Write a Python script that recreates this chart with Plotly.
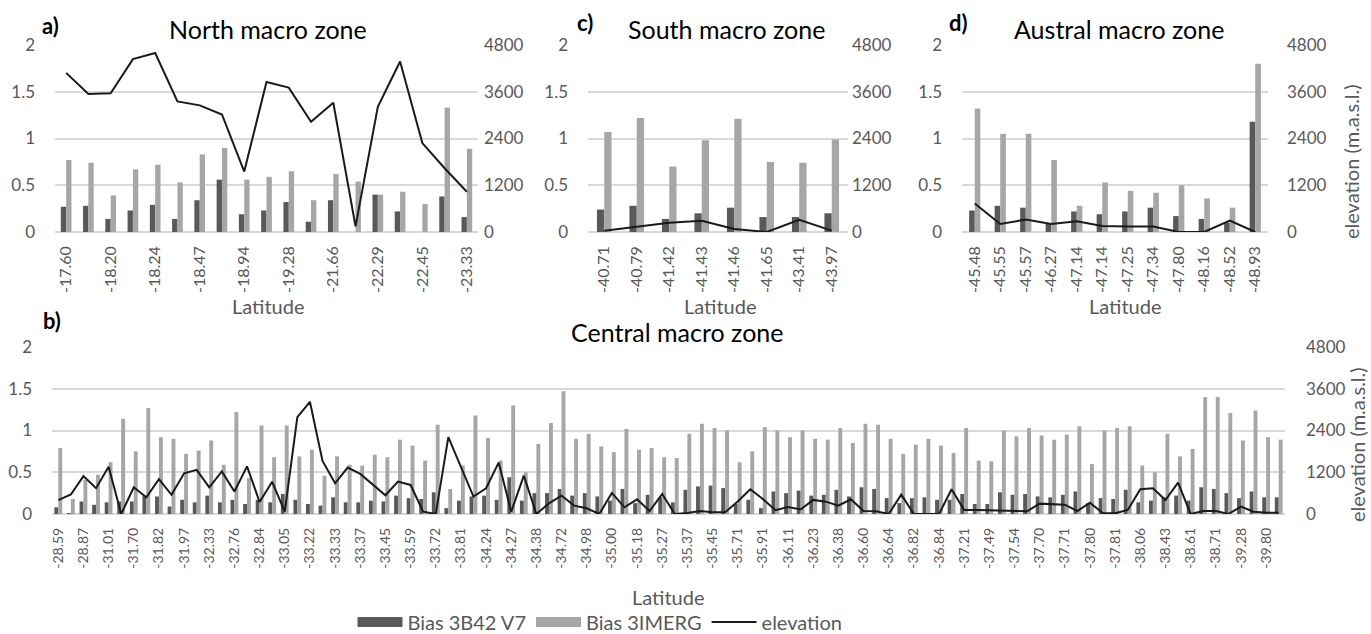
import plotly.graph_objects as go

# ---------------- DATA ----------------
north_labels = ["-17.60", "-18.20", "-18.24", "-18.47", "-18.94", "-19.28", "-21.66", "-22.29", "-22.45", "-23.33"]
north_3b42 = [0.27, 0.28, 0.14, 0.23, 0.29, 0.14, 0.34, 0.56, 0.19, 0.23, 0.32, 0.11, 0.34, 0.0, 0.40, 0.22, 0.0, 0.38, 0.16]
north_imerg = [0.77, 0.74, 0.39, 0.67, 0.72, 0.53, 0.83, 0.90, 0.56, 0.59, 0.65, 0.34, 0.62, 0.54, 0.40, 0.43, 0.30, 1.33, 0.89]
north_elev = [4085, 3542, 3559, 4438, 4594, 3353, 3250, 3016, 1551, 3852, 3706, 2827, 3318, 146, 3214, 4378, 2283, 1637, 1034]

south_labels = ["-40.71", "-40.79", "-41.42", "-41.43", "-41.46", "-41.65", "-43.41", "-43.97"]
south_3b42 = [0.24, 0.28, 0.14, 0.20, 0.26, 0.16, 0.16, 0.20]
south_imerg = [1.07, 1.22, 0.70, 0.98, 1.21, 0.75, 0.74, 0.99]
south_elev = [35, 130, 235, 287, 78, 0, 313, 35]

austral_labels = ["-45.48", "-45.55", "-45.57", "-46.27", "-47.14", "-47.14", "-47.25", "-47.34", "-47.80", "-48.16", "-48.52", "-48.93"]
austral_3b42 = [0.23, 0.28, 0.26, 0.09, 0.22, 0.19, 0.22, 0.26, 0.17, 0.14, 0.10, 1.18]
austral_imerg = [1.32, 1.05, 1.05, 0.77, 0.28, 0.53, 0.44, 0.42, 0.50, 0.36, 0.26, 1.80]
austral_elev = [732, 207, 319, 207, 276, 155, 138, 138, 0, 0, 293, 0]

central_labels = ["-28.59", "-28.87", "-31.01", "-31.70", "-31.82", "-31.97", "-32.33", "-32.76", "-32.84",
                  "-33.05", "-33.22", "-33.33", "-33.37", "-33.45", "-33.59", "-33.72", "-33.81", "-34.24",
                  "-34.27", "-34.38", "-34.72", "-34.98", "-35.00", "-35.18", "-35.27", "-35.37", "-35.45",
                  "-35.71", "-35.91", "-36.11", "-36.23", "-36.38", "-36.60", "-36.64", "-36.82", "-36.84",
                  "-37.21", "-37.49", "-37.54", "-37.70", "-37.71", "-37.80", "-37.81", "-38.06", "-38.43",
                  "-38.61", "-38.71", "-39.28", "-39.80"]
central_3b42 = [0.08, 0.01, 0.15, 0.11, 0.14, 0.15, 0.15, 0.22, 0.21, 0.09,
                0.17, 0.14, 0.22, 0.14, 0.17, 0.12, 0.17, 0.14, 0.24, 0.17,
                0.12, 0.10, 0.20, 0.14, 0.14, 0.16, 0.15, 0.22, 0.19, 0.18,
                0.26, 0.07, 0.16, 0.21, 0.22, 0.17, 0.44, 0.16, 0.25, 0.25,
                0.30, 0.22, 0.25, 0.21, 0.16, 0.30, 0.13, 0.23, 0.20, 0.14,
                0.29, 0.33, 0.34, 0.31, 0.12, 0.17, 0.07, 0.27, 0.25, 0.28,
                0.22, 0.23, 0.29, 0.21, 0.32, 0.30, 0.19, 0.13, 0.19, 0.20,
                0.17, 0.17, 0.24, 0.12, 0.12, 0.26, 0.23, 0.24, 0.21, 0.20,
                0.23, 0.27, 0.13, 0.19, 0.18, 0.29, 0.14, 0.16, 0.20, 0.22,
                0.16, 0.32, 0.30, 0.25, 0.19, 0.27, 0.20, 0.20]
central_imerg = [0.79, 0.18, 0.41, 0.47, 0.62, 1.14, 0.75, 1.27, 0.92, 0.90,
                 0.72, 0.76, 0.88, 0.59, 1.22, 0.43, 1.06, 0.68, 1.06, 0.69,
                 0.77, 0.46, 0.69, 0.59, 0.58, 0.71, 0.68, 0.89, 0.82, 0.64,
                 1.07, 0.30, 0.58, 1.18, 0.91, 0.64, 1.30, 0.50, 0.84, 1.09,
                 1.47, 0.90, 0.96, 0.81, 0.74, 1.02, 0.77, 0.79, 0.68, 0.67,
                 0.96, 1.08, 1.03, 1.00, 0.62, 0.75, 1.04, 1.00, 0.92, 1.00,
                 0.90, 0.89, 1.03, 0.85, 1.08, 1.07, 0.90, 0.72, 0.83, 0.90,
                 0.82, 0.73, 1.03, 0.64, 0.63, 1.00, 0.93, 1.03, 0.94, 0.89,
                 0.95, 1.05, 0.60, 1.00, 1.03, 1.05, 0.58, 0.50, 0.96, 0.69,
                 0.78, 1.40, 1.40, 1.21, 0.88, 1.24, 0.92, 0.89]
central_elev = [400, 560, 1090, 740, 1360, 0, 770, 480, 1000, 550,
                1170, 1270, 768, 1225, 645, 1370, 345, 925, 67, 2784,
                3226, 1526, 883, 1334, 1152, 835, 538, 931, 835, 67,
                0, 2208, 1330, 500, 739, 1478, 67, 1104, 0, 307,
                528, 240, 163, 0, 605, 192, 422, 86, 576, 0,
                30, 86, 48, 48, 360, 710, 430, 110, 200, 130,
                405, 355, 240, 422, 86, 77, 0, 557, 0, 0,
                0, 710, 115, 115, 106, 106, 106, 77, 298, 278,
                269, 86, 326, 30, 19, 115, 710, 739, 403, 902,
                0, 86, 86, 0, 211, 67, 38, 38]

# ---------------- STYLE ----------------
DARK = "#595959"
LIGHT = "#A6A6A6"
LINE = "#1A1A1A"
GRID = "#D9D9D9"
TXT = "#595959"
FONT = "Lato"
W, H = 1371, 634


def px_x(p):
    return p / W


def px_y(p):
    return 1 - p / H


fig = go.Figure()

panels = [
    # name, labels, dark, light, elev, x px, y px, bar width, x-tick font, label step, right standoff
    ("north", north_labels, north_3b42, north_imerg, north_elev, (55, 478), (45, 232), 0.24, 16, 2, 5),
    ("south", south_labels, south_3b42, south_imerg, south_elev, (588, 848), (45, 232), 0.225, 16, 1, 3),
    ("austral", austral_labels, austral_3b42, austral_imerg, austral_elev, (962, 1268), (45, 232), 0.22, 16, 1, 18),
    ("central", central_labels, central_3b42, central_imerg, central_elev, (52, 1285), (347, 514), 0.31, 14, 2, 20),
]

layout_axes = {}
for i, (name, labels, dark, light, elev, xd, yd, bw, xfs, step, rstand) in enumerate(panels):
    n = len(dark)
    xs = list(range(n))
    xa = "x" if i == 0 else f"x{i + 1}"
    ya_l = f"y{2 * i + 1}" if i > 0 else "y"
    ya_r = f"y{2 * i + 2}"
    fig.add_trace(go.Bar(x=xs, y=dark, xaxis=xa, yaxis=ya_l, marker_color=DARK, width=bw, offset=-bw,
                         marker_line_width=0, showlegend=False, name="Bias 3B42 V7"))
    fig.add_trace(go.Bar(x=xs, y=light, xaxis=xa, yaxis=ya_l, marker_color=LIGHT, width=bw, offset=0,
                         marker_line_width=0, showlegend=False, name="Bias 3IMERG"))
    fig.add_trace(go.Scatter(x=xs, y=elev, xaxis=xa, yaxis=ya_r, mode="lines",
                             line=dict(color=LINE, width=2), showlegend=False, name="elevation"))

    xkey = "xaxis" if i == 0 else f"xaxis{i + 1}"
    ylkey = "yaxis" if i == 0 else f"yaxis{2 * i + 1}"
    yrkey = f"yaxis{2 * i + 2}"
    layout_axes[xkey] = dict(
        domain=[px_x(xd[0]), px_x(xd[1])], anchor=ya_l, range=[-0.5, n - 0.5], automargin=False,
        tickmode="array", tickvals=list(range(0, n, step))[:len(labels)], ticktext=labels,
        tickangle=-90, showgrid=False, zeroline=False, showline=False, ticks="",
        tickfont=dict(family=FONT, size=xfs, color=TXT), ticklabelstandoff=10,
    )
    layout_axes[ylkey] = dict(
        domain=[px_y(yd[1]), px_y(yd[0])], anchor=xa, range=[0, 2], dtick=0.5, tick0=0, automargin=False,
        showgrid=True, gridcolor=GRID, gridwidth=1.5, zeroline=True, zerolinecolor=GRID,
        zerolinewidth=1.5, showline=False, ticks="",
        tickfont=dict(family=FONT, size=17, color=TXT), ticklabelstandoff=19,
    )
    layout_axes[yrkey] = dict(
        overlaying=ya_l, side="right", anchor=xa, range=[0, 4800], dtick=1200, tick0=0, automargin=False,
        showgrid=False, zeroline=False, showline=False, ticks="",
        tickfont=dict(family=FONT, size=17, color=TXT), ticklabelstandoff=rstand,
    )

# legend entries (wide swatches)
fig.add_trace(go.Scatter(x=[None], y=[None], mode="lines", line=dict(color=DARK, width=14),
                         name="Bias 3B42 V7", xaxis="x4", yaxis="y7"))
fig.add_trace(go.Scatter(x=[None], y=[None], mode="lines", line=dict(color=LIGHT, width=14),
                         name="Bias 3IMERG", xaxis="x4", yaxis="y7"))
fig.add_trace(go.Scatter(x=[None], y=[None], mode="lines", line=dict(color=LINE, width=2),
                         name="elevation", xaxis="x4", yaxis="y8"))

annotations = []


def ann(text, x, y, size, color="black", bold=False, angle=0, xanchor="center"):
    annotations.append(dict(
        text=f"<b>{text}</b>" if bold else text, x=px_x(x), y=px_y(y), xref="paper", yref="paper",
        showarrow=False, xanchor=xanchor, yanchor="middle", textangle=angle,
        font=dict(family=FONT, size=size, color=color)))


ann("a)", 40, 26, 22, bold=True, xanchor="left")
ann("North macro zone", 268, 29, 25)
ann("c)", 575, 23, 22, bold=True, xanchor="left")
ann("South macro zone", 726, 29, 25)
ann("d)", 947, 23, 22, bold=True, xanchor="left")
ann("Austral macro zone", 1119, 29, 25)
ann("b)", 41, 320, 22, bold=True, xanchor="left")
ann("Central macro zone", 677, 332, 25)

ann("Latitude", 268, 306, 20, TXT)
ann("Latitude", 720, 306, 20, TXT)
ann("Latitude", 1125, 306, 20, TXT)
ann("Latitude", 668, 597, 20, TXT)

ann("elevation (m.a.s.l.)", 1351, 162, 20, TXT, angle=-90)
ann("elevation (m.a.s.l.)", 1357, 445, 20, TXT, angle=-90)

fig.update_layout(
    width=W, height=H,
    margin=dict(l=0, r=0, t=0, b=0, autoexpand=False),
    paper_bgcolor="white", plot_bgcolor="white",
    barmode="overlay",
    showlegend=True,
    legend=dict(orientation="h", x=px_x(600), y=px_y(622), xanchor="center", yanchor="middle",
                font=dict(family=FONT, size=20, color=TXT), itemwidth=45, tracegroupgap=0,
                bgcolor="rgba(0,0,0,0)"),
    annotations=annotations,
    **layout_axes,
)

post = ("var gd=document.getElementById('{plot_id}');"
        "gd.style.position='fixed';gd.style.top='0px';gd.style.left='0px';"
        "document.body.style.margin='0px';document.body.style.overflow='hidden';"
        "document.documentElement.style.overflow='hidden';")
fig.write_html("out.html", config={"displayModeBar": False}, post_script=post)
